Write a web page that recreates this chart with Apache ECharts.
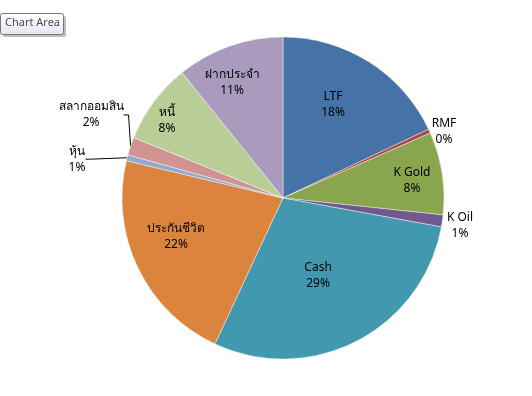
<!DOCTYPE html>
<html><head><meta charset="utf-8">
<script src="https://cdn.jsdelivr.net/npm/echarts@6/dist/echarts.min.js"></script>
<style>html,body{margin:0;padding:0;background:#fff}#c{width:532px;height:396px}</style>
</head><body><div id="c"></div>
<script>
// Data (percent share), clockwise from 12 o'clock
var categories = ['LTF','RMF','K Gold','K Oil','Cash','ประกันชีวิต','หุ้น','สลากออมสิน','หนี้','ฝากประจำ'];
var values = [18.0, 0.4, 8.3, 1.2, 29.1, 21.8, 0.6, 1.8, 8.1, 10.8];

// Styling / label placement (not data)
var colors = ['#4572A7','#AA4643','#89A54E','#71588F','#4198AF','#DB843D','#93A9CF','#D19392','#B9CD96','#A99BBD'];
var labelRadius = [0.656, 1.083, 0.808, 1.113, 0.531, 0.705, 1.302, 1.299, 0.865, 0.781];
var labelAngleShift = [-4.1, 2.0, 1.4, 0.8, 3.1, 6.2, -3.8, 4.6, -3.0, -4.5];
var showLine = [false,false,false,false,false,false,true,true,false,false];

var CX = 283, CY = 198, R = 161;
var total = values.reduce(function(a,b){return a+b;},0);
var mids = []; var acc = 0;
values.forEach(function(v){ mids.push((acc + v/2)/total*360); acc += v; });

var chart = echarts.init(document.getElementById('c'), null, {renderer:'canvas'});
var FONT = '"Noto Sans","DejaVu Sans",sans-serif';
chart.setOption({
  animation:false,
  color: colors,
  graphic:[
    {type:'rect', shape:{x:3,y:16,width:63,height:21,r:2}, style:{fill:'rgba(0,0,0,0.25)'}, z:10},
    {type:'rect', shape:{x:0.5,y:13.5,width:63,height:21,r:2}, style:{fill:new echarts.graphic.LinearGradient(0,0,0,1,[{offset:0,color:'#ffffff'},{offset:1,color:'#e4e5f0'}]), stroke:'#767676', lineWidth:1}, z:11},
    {type:'text', left:5, top:17, style:{text:'Chart Area', fill:'#4c4c4c', font:'11px '+FONT}, z:12}
  ],
  series:[{
    type:'pie',
    center:[CX, CY],
    radius:R,
    startAngle:90,
    clockwise:true,
    avoidLabelOverlap:false,
    itemStyle:{borderColor:'rgba(255,255,255,0.7)', borderWidth:0.6},
    label:{
      show:true,
      position:'outside',
      color:'#000',
      fontFamily:FONT,
      fontSize:12,
      lineHeight:16,
      align:'center',
      formatter:function(p){ return p.name + '\n' + Math.round(p.value/total*100) + '%'; }
    },
    labelLine:{show:false, length:5, length2:5, lineStyle:{color:'#000', width:1}},
    labelLayout:function(p){
      var i = p.dataIndex;
      var a = (mids[i] + labelAngleShift[i]) * Math.PI/180;
      var f = labelRadius[i];
      return {
        x: CX + f*R*Math.sin(a),
        y: CY - f*R*Math.cos(a),
        align:'center',
        verticalAlign:'middle'
      };
    },
    data: categories.map(function(c,i){
      return {name:c, value:values[i], labelLine:{show:showLine[i]}};
    })
  }]
});
</script></body></html>
